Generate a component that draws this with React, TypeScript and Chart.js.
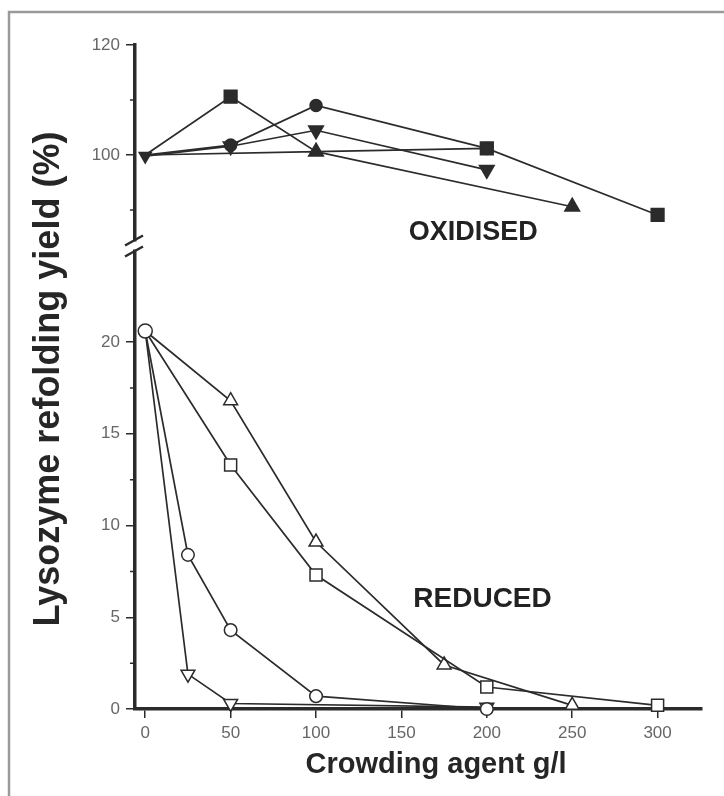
import React, { useEffect, useRef } from 'react';
import { Chart, registerables } from 'chart.js';

Chart.register(...registerables);

// ---- tick values ----
const xTicks = [0, 50, 100, 150, 200, 250, 300];
const topTicks = [100, 120];
const topMinorTicks = [90, 110];
const bottomTicks = [0, 5, 10, 15, 20];
const bottomMinorTicks = [2.5, 7.5, 12.5, 17.5];

// ---- OXIDISED (filled markers) ----
const oxTriangleX = [0, 100, 250];
const oxTriangleY = [100, 100.6, 90.6];
const oxSquareX = [0, 50, 100, 200, 300];
const oxSquareY = [100, 110.6, 100.6, 101.2, 89.1];
const oxCircleX = [0, 50, 100, 200];
const oxCircleY = [100, 101.8, 109.0, 101.2];
const oxInvTriX = [0, 50, 100, 200];
const oxInvTriY = [99.8, 101.6, 104.5, 97.3];

// ---- REDUCED (open markers) ----
const redTriangleX = [0, 50, 100, 175, 250];
const redTriangleY = [20.6, 16.8, 9.1, 2.4, 0.2];
const redSquareX = [0, 50, 100, 200, 300];
const redSquareY = [20.6, 13.3, 7.3, 1.2, 0.2];
const redInvTriX = [0, 25, 50, 200];
const redInvTriY = [20.6, 1.9, 0.3, 0.1];
const redCircleX = [0, 25, 50, 100, 200];
const redCircleY = [20.6, 8.4, 4.3, 0.7, 0.0];

// ---- text ----
const yTitle = 'Lysozyme refolding yield (%)';
const xTitle = 'Crowding agent g/l';
const oxLabel = 'OXIDISED';
const redLabel = 'REDUCED';

const INK = '#2b2b2b';
const FONT = '"Liberation Sans", Arial, sans-serif';

const pts = (xs: number[], ys: number[]) => xs.map((x, i) => ({ x, y: ys[i] }));

// markers lying exactly under another series' marker are not drawn
function ds(
  xs: number[], ys: number[], axis: string, style: string, filled: boolean,
  radius: number, rotation = 0, hidden: number[] = [], firstRadius?: number,
) {
  const radii = xs.map((_, i) => (hidden.includes(i) ? 0 : i === 0 && firstRadius ? firstRadius : radius));
  return {
    data: pts(xs, ys),
    yAxisID: axis,
    borderColor: INK,
    borderWidth: 1.7,
    pointStyle: style,
    pointRotation: rotation,
    pointRadius: radii,
    pointBackgroundColor: filled ? INK : '#ffffff',
    pointBorderColor: INK,
    pointBorderWidth: 1.5,
    fill: false,
    tension: 0,
    clip: false as any,
  };
}

const decor = {
  id: 'decor',
  afterDraw(chart: any) {
    const ctx = chart.ctx as CanvasRenderingContext2D;
    const xs = chart.scales.x;
    const yt = chart.scales.yTop;
    const yb = chart.scales.yBot;
    const left = chart.chartArea.left;
    ctx.save();

    // frame
    ctx.strokeStyle = '#9a9a9a';
    ctx.lineWidth = 2.5;
    ctx.beginPath();
    ctx.moveTo(9, 796);
    ctx.lineTo(9, 12);
    ctx.lineTo(724, 12);
    ctx.stroke();

    // minor ticks
    ctx.strokeStyle = INK;
    ctx.lineWidth = 1.5;
    ctx.beginPath();
    topMinorTicks.forEach((v) => {
      const p = yt.getPixelForValue(v);
      ctx.moveTo(left - 5, p);
      ctx.lineTo(left, p);
    });
    bottomMinorTicks.forEach((v) => {
      const p = yb.getPixelForValue(v);
      ctx.moveTo(left - 5, p);
      ctx.lineTo(left, p);
    });
    ctx.stroke();

    // axis break
    const b = Math.min(yt.bottom, yb.top) + Math.abs(yt.bottom - yb.top) / 2;
    ctx.fillStyle = '#ffffff';
    ctx.fillRect(left - 3, b - 4, 6, 8);
    ctx.lineWidth = 2.5;
    ctx.beginPath();
    ctx.moveTo(left - 10, b);
    ctx.lineTo(left + 8, b - 10);
    ctx.moveTo(left - 10, b + 11);
    ctx.lineTo(left + 8, b + 1);
    ctx.stroke();

    // annotations
    ctx.fillStyle = '#222';
    ctx.textAlign = 'center';
    ctx.textBaseline = 'alphabetic';
    ctx.font = `bold 27px ${FONT}`;
    ctx.fillText(oxLabel, xs.getPixelForValue(192), yt.getPixelForValue(84.5));
    ctx.font = `bold 28px ${FONT}`;
    ctx.fillText(redLabel, xs.getPixelForValue(197.5), yb.getPixelForValue(5.55));

    // axis titles
    ctx.fillStyle = '#262626';
    ctx.font = `bold 29px ${FONT}`;
    ctx.textBaseline = 'middle';
    ctx.fillText(xTitle, 436, 765);

    ctx.save();
    ctx.translate(59, 379);
    ctx.rotate(-Math.PI / 2);
    ctx.font = `bold 36px ${FONT}`;
    ctx.textBaseline = 'alphabetic';
    ctx.fillText(yTitle, 0, 0);
    ctx.restore();

    ctx.restore();
  },
};

const tickFont = { family: FONT, size: 17 };
const tickColor = '#666666';

export default function App() {
  const ref = useRef<HTMLCanvasElement | null>(null);

  useEffect(() => {
    if (!ref.current) return;
    // Chart.js paints dataset 0 last (on top)
    const chart = new Chart(ref.current, {
      type: 'line',
      data: {
        datasets: [
          ds(oxInvTriX, oxInvTriY, 'yTop', 'triangle', true, 8.5, 180, [], 7),
          ds(oxCircleX, oxCircleY, 'yTop', 'circle', true, 6, 0, [0]),
          ds(oxTriangleX, oxTriangleY, 'yTop', 'triangle', true, 8.5, 0, [0]),
          ds(oxSquareX, oxSquareY, 'yTop', 'rect', true, 9, 0, [0, 2]),
          ds(redCircleX, redCircleY, 'yBot', 'circle', false, 6.3, 0, [], 7),
          ds(redInvTriX, redInvTriY, 'yBot', 'triangle', false, 8, 180, [0]),
          ds(redSquareX, redSquareY, 'yBot', 'rect', false, 8.5, 0, [0]),
          ds(redTriangleX, redTriangleY, 'yBot', 'triangle', false, 8, 0, [0]),
        ] as any,
      },
      options: {
        animation: false,
        responsive: false,
        devicePixelRatio: 1,
        layout: { padding: { top: 45, right: 22, bottom: 0, left: 0 } },
        plugins: {
          legend: { display: false },
          tooltip: { enabled: false },
          title: { display: false },
        },
        scales: {
          x: {
            type: 'linear',
            position: 'bottom',
            min: -6,
            max: 326,
            afterBuildTicks: (s: any) => {
              s.ticks = xTicks.map((v) => ({ value: v }));
            },
            afterFit: (s: any) => {
              s.height = 87;
              s.paddingLeft = 0;
              s.paddingRight = 0;
            },
            grid: { display: true, drawOnChartArea: false, drawTicks: true, tickLength: 9, color: INK, lineWidth: 1.5 },
            border: { display: true, width: 3.5, color: INK },
            ticks: { color: tickColor, font: tickFont, padding: 5, maxRotation: 0, autoSkip: false },
          },
          yBot: {
            type: 'linear',
            position: 'left',
            stack: 'y',
            stackWeight: 463.5,
            min: 0,
            max: 25.26,
            afterBuildTicks: (s: any) => {
              s.ticks = bottomTicks.map((v) => ({ value: v }));
            },
            afterFit: (s: any) => {
              s.width = 135;
            },
            grid: { display: true, drawOnChartArea: false, drawTicks: true, tickLength: 9, color: INK, lineWidth: 1.5 },
            border: { display: true, width: 3.5, color: INK },
            ticks: { color: tickColor, font: tickFont, padding: 6, autoSkip: false },
          },
          yTop: {
            type: 'linear',
            position: 'left',
            stack: 'y',
            stackWeight: 200.5,
            min: 83.55,
            max: 120,
            afterBuildTicks: (s: any) => {
              s.ticks = topTicks.map((v) => ({ value: v }));
            },
            afterFit: (s: any) => {
              s.width = 135;
            },
            grid: { display: true, drawOnChartArea: false, drawTicks: true, tickLength: 9, color: INK, lineWidth: 1.5 },
            border: { display: true, width: 3.5, color: INK },
            ticks: { color: tickColor, font: tickFont, padding: 6, autoSkip: false },
          },
        },
      } as any,
      plugins: [decor],
    });
    return () => chart.destroy();
  }, []);

  return (
    <div style={{ position: 'absolute', left: 0, top: 0, width: 724, height: 796, background: '#fff' }}>
      <canvas ref={ref} width={724} height={796} style={{ display: 'block', width: 724, height: 796 }} />
    </div>
  );
}
